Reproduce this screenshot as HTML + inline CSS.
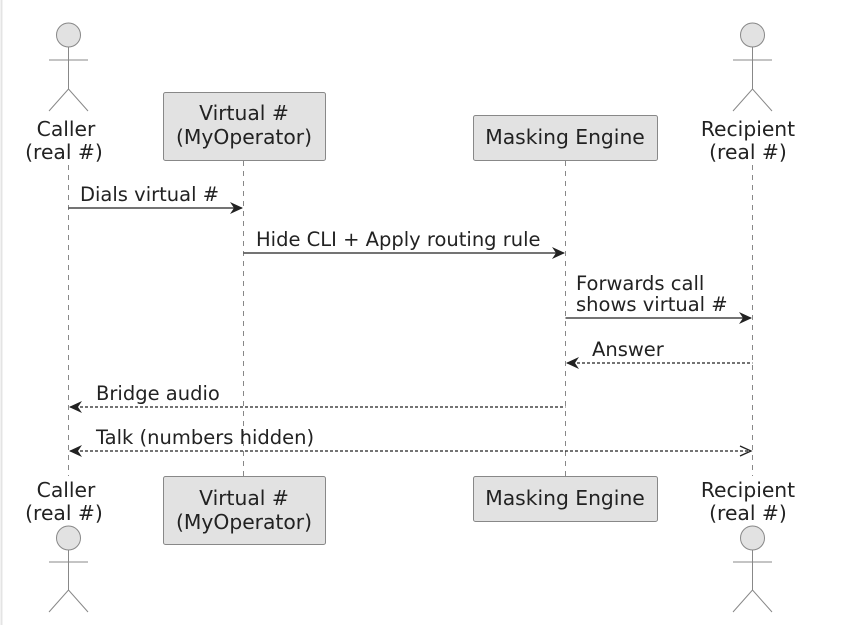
<!DOCTYPE html>
<html><head><meta charset="utf-8"><style>
html,body{margin:0;padding:0;background:#fff;}
svg{display:block;}
text{font-family:"DejaVu Sans","Liberation Sans",sans-serif;font-size:19.5px;fill:#222;}
.p{font-size:20.3px;}
</style></head><body>
<svg width="848" height="625" viewBox="0 0 848 625" xmlns="http://www.w3.org/2000/svg">
<rect width="848" height="625" fill="#fff"/>
<line x1="1.5" y1="0" x2="1.5" y2="625" stroke="#e4e4e4" stroke-width="2"/>
<g stroke="#888" stroke-width="1" stroke-dasharray="5,5">
<line x1="68.5" y1="165" x2="68.5" y2="476"/>
<line x1="243.5" y1="161" x2="243.5" y2="476"/>
<line x1="565.5" y1="161" x2="565.5" y2="476"/>
<line x1="752.5" y1="165" x2="752.5" y2="476"/>
</g>
<g fill="#e2e2e2" stroke="#888" stroke-width="1">
<circle cx="68.5" cy="35" r="12"/>
<circle cx="752.5" cy="35" r="12"/>
<circle cx="68.5" cy="538" r="12"/>
<circle cx="752.5" cy="538" r="12"/>
<rect x="163.5" y="92.5" width="162" height="68" rx="2"/>
<rect x="473.5" y="115.5" width="184" height="45" rx="2"/>
<rect x="163.5" y="476.5" width="162" height="68" rx="2"/>
<rect x="473.5" y="476.5" width="184" height="45" rx="2"/>
</g>
<g stroke="#888" stroke-width="1" fill="none">
<path d="M68.5 47V89M49 60H88M49 111L68.5 89L88 111"/>
<path d="M752.5 47V89M733 60H772M733 111L752.5 89L772 111"/>
<path d="M68.5 550V590M49 562H88M49 612L68.5 590L88 612"/>
<path d="M752.5 550V590M733 562H772M733 612L752.5 590L772 612"/>
</g>
<g text-anchor="middle" class="p">
<text class="p" x="66" y="136">Caller</text><text class="p" x="64" y="159">(real #)</text>
<text class="p" x="748" y="136">Recipient</text><text class="p" x="748" y="159">(real #)</text>
<text class="p" x="244" y="120">Virtual #</text><text class="p" x="244" y="144">(MyOperator)</text>
<text class="p" x="565" y="144">Masking Engine</text>
<text class="p" x="66" y="497">Caller</text><text class="p" x="64" y="520">(real #)</text>
<text class="p" x="748" y="497">Recipient</text><text class="p" x="748" y="520">(real #)</text>
<text class="p" x="244" y="505">Virtual #</text><text class="p" x="244" y="529">(MyOperator)</text>
<text class="p" x="565" y="505">Masking Engine</text>
</g>
<g stroke="#222" stroke-width="1.3" fill="none">
<line x1="68.5" y1="208" x2="242" y2="208"/>
<line x1="243.5" y1="253" x2="564" y2="253"/>
<line x1="565.5" y1="318" x2="751" y2="318"/>
<g stroke-dasharray="3,2">
<line x1="567" y1="363" x2="752.5" y2="363"/>
<line x1="70" y1="407" x2="565.5" y2="407"/>
<line x1="70" y1="451" x2="751" y2="451"/>
</g>
<path d="M740 446L751 451L740 456"/>
</g>
<g fill="#222">
<path d="M243 208L230 202L234 208L230 214Z"/>
<path d="M565 253L552 247L556 253L552 259Z"/>
<path d="M752 318L739 312L743 318L739 324Z"/>
<path d="M566 363L579 357L575 363L579 369Z"/>
<path d="M69 407L82 401L78 407L82 413Z"/>
<path d="M69 451L82 445L78 451L82 457Z"/>
</g>
<text x="80" y="201">Dials virtual #</text>
<text x="256" y="246">Hide CLI + Apply routing rule</text>
<text x="576" y="290">Forwards call</text>
<text x="576" y="311">shows virtual #</text>
<text x="592" y="356">Answer</text>
<text x="96" y="400">Bridge audio</text>
<text x="96" y="444">Talk (numbers hidden)</text>
</svg>
</body></html>
